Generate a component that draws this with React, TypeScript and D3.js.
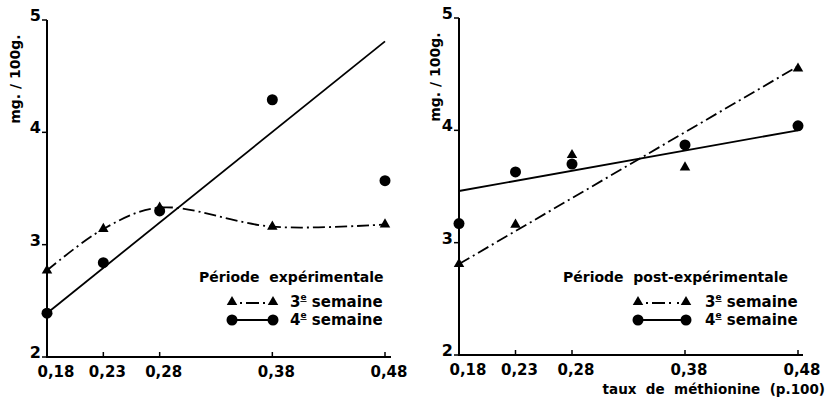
import * as d3 from "d3";

// methionine levels (p.100) and their printed labels
const doses = [0.18, 0.23, 0.28, 0.38, 0.48];
const doseLabels = ["0,18", "0,23", "0,28", "0,38", "0,48"];
const yTicks = [2, 3, 4, 5];

// période expérimentale
const expWeek3 = [2.77, 3.14, 3.33, 3.16, 3.18];
const expWeek4 = [2.39, 2.84, 3.3, 4.29, 3.57];
const expWeek4Fit = [2.39, 4.81]; // fitted line at 0.18 / 0.48

// période post-expérimentale
const postWeek3 = [2.81, 3.16, 3.78, 3.67, 4.55];
const postWeek4 = [3.17, 3.63, 3.7, 3.87, 4.04];
const postWeek3Fit = [2.81, 4.57];
const postWeek4Fit = [3.46, 4.0];

const FONT = "'DejaVu Sans', sans-serif";
const DASHDOT = "12,4,2,4";
const NB = "\u00a0";
const tri = d3.symbol(d3.symbolTriangle, 48)()!;

type Fit = { values: number[]; dashed: boolean };

interface PanelProps {
  x0: number;
  x1: number;
  yTop: number;
  yBottom: number;
  axisEnd: number;
  week3: number[];
  week4: number[];
  curve3?: boolean;
  fits: Fit[];
  title: string;
  legendX: number;
  markX: [number, number];
  textX: number;
  yTitleX: number;
}

function Panel(p: PanelProps) {
  const x = d3.scaleLinear().domain([0.18, 0.48]).range([p.x0, p.x1]);
  const y = d3.scaleLinear().domain([2, 5]).range([p.yBottom, p.yTop]);
  const line = d3
    .line<number>()
    .x((_, i) => x(doses[i]))
    .y((d) => y(d));
  const curvePath = line.curve(d3.curveCatmullRom.alpha(0.5))(p.week3) ?? "";
  const ends = [0.18, 0.48];

  return (
    <g fontFamily={FONT} fontWeight="bold" fill="#000">
      {/* axes */}
      <path
        d={`M${p.x0},${y(5)}V${y(2)}H${p.axisEnd}`}
        fill="none"
        stroke="#000"
        strokeWidth={2}
      />
      {yTicks.map((t) => (
        <g key={t}>
          <line x1={p.x0 - 5} x2={p.x0} y1={y(t)} y2={y(t)} stroke="#000" strokeWidth={1.5} />
          <text x={p.x0 - 6} y={y(t) + 1} textAnchor="end" fontSize={16}>
            {t}
          </text>
        </g>
      ))}
      {doses.map((d, i) => (
        <g key={d}>
          <line x1={x(d)} x2={x(d)} y1={y(2)} y2={y(2) - 5} stroke="#000" strokeWidth={1.5} />
          <text x={x(d) + (i === 0 ? 9 : 4)} y={y(2) + 20} textAnchor="middle" fontSize={15}>
            {doseLabels[i]}
          </text>
        </g>
      ))}
      <text
        transform={`translate(${p.yTitleX},${(y(5) + y(4)) / 2 + 3}) rotate(-90)`}
        textAnchor="middle"
        fontSize={14}
      >
        mg. / 100g.
      </text>

      {/* lines */}
      {p.curve3 && (
        <path d={curvePath} fill="none" stroke="#000" strokeWidth={1.8} strokeDasharray={DASHDOT} />
      )}
      {p.fits.map((f, i) => (
        <line
          key={i}
          x1={x(ends[0])}
          y1={y(f.values[0])}
          x2={x(ends[1])}
          y2={y(f.values[1])}
          stroke="#000"
          strokeWidth={1.8}
          strokeDasharray={f.dashed ? DASHDOT : undefined}
        />
      ))}

      {/* markers */}
      {p.week3.map((v, i) => (
        <path key={"t" + i} d={tri} transform={`translate(${x(doses[i])},${y(v)})`} />
      ))}
      {p.week4.map((v, i) => (
        <circle key={"c" + i} cx={x(doses[i])} cy={y(v)} r={5.5} />
      ))}

      {/* legend */}
      <text x={p.legendX} y={282} fontSize={14}>
        {p.title}
      </text>
      <path d={tri} transform={`translate(${p.markX[0]},${302})`} />
      <path d={tri} transform={`translate(${p.markX[1]},${302})`} />
      <line
        x1={p.markX[0] + 5}
        x2={p.markX[1] - 5}
        y1={303}
        y2={303}
        stroke="#000"
        strokeWidth={1.8}
        strokeDasharray="0,3,2,4,13,4,2,3"
      />
      <circle cx={p.markX[0]} cy={320} r={5.5} />
      <circle cx={p.markX[1]} cy={320} r={5.5} />
      <line x1={p.markX[0]} x2={p.markX[1]} y1={320} y2={320} stroke="#000" strokeWidth={1.8} />
      {["3", "4"].map((n, i) => (
        <text key={n} x={p.textX} y={307 + i * 18} fontSize={15}>
          {n}
          <tspan fontSize={9} dy={-7} textDecoration="underline">
            e
          </tspan>
          <tspan dy={7}>{NB}semaine</tspan>
        </text>
      ))}
    </g>
  );
}

export default function App() {
  return (
    <svg
      width={839}
      height={399}
      style={{ position: "absolute", left: 0, top: 0, background: "#fff" }}
    >
      <Panel
        x0={47}
        x1={385}
        yTop={20}
        yBottom={357}
        axisEnd={391}
        week3={expWeek3}
        week4={expWeek4}
        curve3
        fits={[{ values: expWeek4Fit, dashed: false }]}
        title={`Période${NB}${NB}expérimentale`}
        legendX={199}
        markX={[232, 273]}
        textX={290}
        yTitleX={20}
      />
      <Panel
        x0={459}
        x1={798}
        yTop={18}
        yBottom={355}
        axisEnd={803}
        week3={postWeek3}
        week4={postWeek4}
        fits={[
          { values: postWeek3Fit, dashed: true },
          { values: postWeek4Fit, dashed: false },
        ]}
        title={`Période${NB}${NB}post-expérimentale`}
        legendX={563}
        markX={[638, 686]}
        textX={705}
        yTitleX={440}
      />
      <text
        x={825}
        y={394}
        textAnchor="end"
        fontFamily={FONT}
        fontWeight="bold"
        fontSize={13.5}
      >
        {`taux${NB}${NB}de${NB}${NB}méthionine${NB}${NB}(p.100)`}
      </text>
    </svg>
  );
}
